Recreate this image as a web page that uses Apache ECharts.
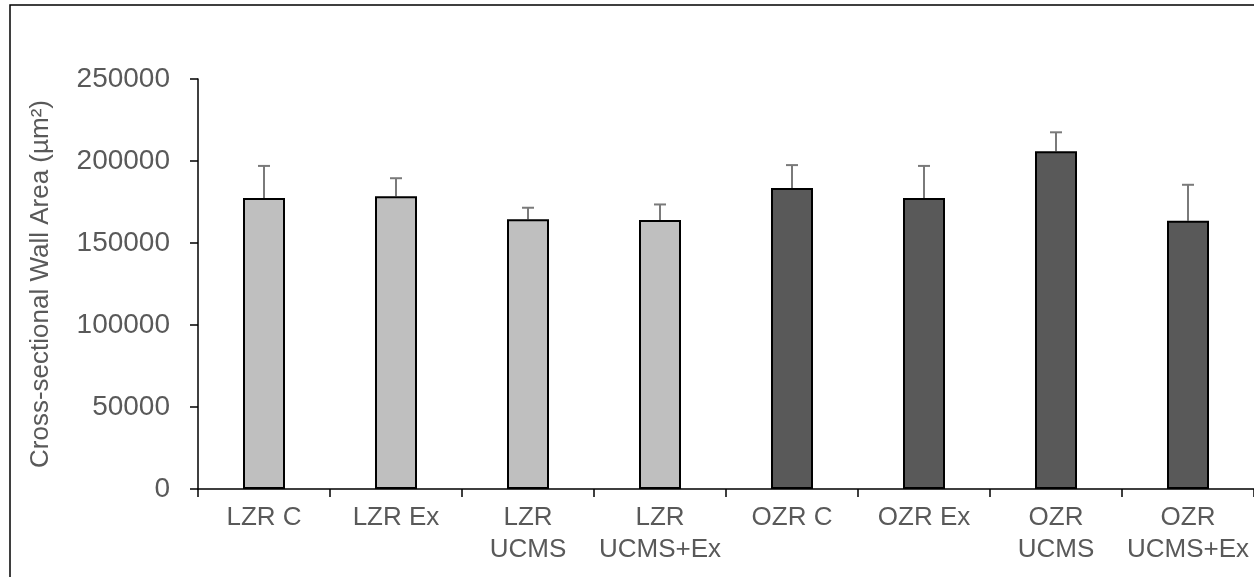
<!DOCTYPE html>
<html>
<head>
<meta charset="utf-8">
<script src="https://cdn.jsdelivr.net/npm/echarts@6/dist/echarts.min.js"></script>
<style>
html,body{margin:0;padding:0;background:#fff;}
#c{width:1254px;height:577px;}
</style>
</head>
<body>
<div id="c"></div>
<script>
const categories = ['LZR C', 'LZR Ex', 'LZR\nUCMS', 'LZR\nUCMS+Ex', 'OZR C', 'OZR Ex', 'OZR\nUCMS', 'OZR\nUCMS+Ex'];
const means = [177500, 178500, 164500, 164000, 183500, 177500, 206000, 163500];
const errors = [19500, 11000, 7000, 9500, 14000, 19500, 11500, 22000];
const groups = ['LZR', 'LZR', 'LZR', 'LZR', 'OZR', 'OZR', 'OZR', 'OZR'];
const yTicks = { min: 0, max: 250000, interval: 50000 };

const groupColor = { LZR: '#bfbfbf', OZR: '#595959' };
const textColor = '#595959';
const font = 'Liberation Sans, Arial, sans-serif';

const chart = echarts.init(document.getElementById('c'), null, { renderer: 'canvas' });

const barData = means.map((v, i) => ({
  value: v,
  itemStyle: { color: groupColor[groups[i]] }
}));
const errData = means.map((v, i) => [i, v, v + errors[i]]);

chart.setOption({
  animation: false,
  backgroundColor: '#fff',
  graphic: [{
    type: 'rect',
    shape: { x: 10, y: 5, width: 1300, height: 640 },
    style: { fill: 'none', stroke: '#000', lineWidth: 1.5 },
    silent: true,
    z: 100
  }],
  grid: { left: 198, top: 79, right: 0, bottom: 88, containLabel: false },
  xAxis: {
    type: 'category',
    data: categories,
    axisLine: { lineStyle: { color: '#000', width: 1.5 } },
    axisTick: { show: true, length: 8, lineStyle: { color: '#000', width: 1.5 } },
    axisLabel: {
      color: textColor, fontSize: 26, fontFamily: font,
      lineHeight: 32, margin: 13, interval: 0
    },
    splitLine: { show: false }
  },
  yAxis: {
    type: 'value',
    min: yTicks.min, max: yTicks.max, interval: yTicks.interval,
    name: 'Cross-sectional Wall Area (µm²)',
    nameLocation: 'middle',
    nameRotate: 90,
    nameGap: 144,
    nameTextStyle: { color: textColor, fontSize: 26, fontFamily: font },
    axisLine: { show: true, lineStyle: { color: '#000', width: 1.5 } },
    axisTick: { show: true, length: 8, lineStyle: { color: '#000', width: 1.5 } },
    axisLabel: {
      color: textColor, fontSize: 28, fontFamily: font, margin: 28,
      formatter: function (v) { return String(v); }
    },
    splitLine: { show: false }
  },
  series: [
    {
      type: 'bar',
      data: barData,
      barWidth: 42,
      itemStyle: { borderColor: '#000', borderWidth: 2 },
      z: 2
    },
    {
      type: 'custom',
      data: errData,
      z: 1,
      renderItem: function (params, api) {
        const x = api.value(0);
        const base = api.coord([x, api.value(1)]);
        const top = api.coord([x, api.value(2)]);
        const half = 6;
        return {
          type: 'group',
          children: [
            { type: 'line', shape: { x1: base[0], y1: base[1], x2: top[0], y2: top[1] },
              style: { stroke: '#7a7a7a', lineWidth: 2 } },
            { type: 'line', shape: { x1: top[0] - half, y1: top[1], x2: top[0] + half, y2: top[1] },
              style: { stroke: '#7a7a7a', lineWidth: 2 } }
          ]
        };
      }
    }
  ]
});
</script>
</body>
</html>
